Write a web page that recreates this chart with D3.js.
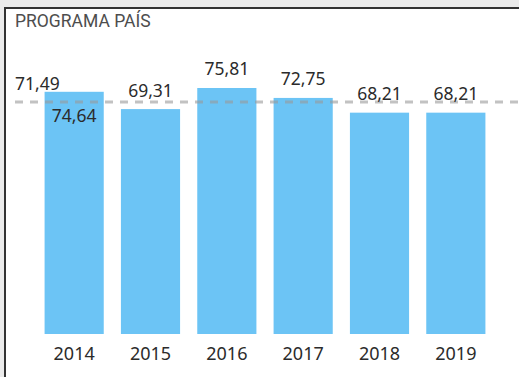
<!DOCTYPE html>
<html>
<head>
<meta charset="utf-8">
<script src="https://cdn.jsdelivr.net/npm/d3@7"></script>
<style>
  html, body { margin: 0; padding: 0; background: #ebebeb; }
  svg { display: block; }
</style>
</head>
<body>
<svg id="chart" width="519" height="377"></svg>
<script>
// Programa País — yearly values with the overall average as a reference line
const years = ["2014", "2015", "2016", "2017", "2018", "2019"];
const values = [74.64, 69.31, 75.81, 72.75, 68.21, 68.21];
const chartTitle = "PROGRAMA PAÍS";

const W = 519, H = 377;
const svg = d3.select("#chart");

// card background with its dark frame on the top and left edges
svg.append("rect").attr("x", 0).attr("y", 0).attr("width", W).attr("height", H).attr("fill", "#ebebeb");
svg.append("rect").attr("x", 4).attr("y", 7).attr("width", W).attr("height", H).attr("fill", "#ffffff");
svg.append("line").attr("x1", 4).attr("x2", W).attr("y1", 8).attr("y2", 8)
  .attr("stroke", "#333").attr("stroke-width", 2);
svg.append("line").attr("x1", 5).attr("x2", 5).attr("y1", 7).attr("y2", H)
  .attr("stroke", "#333").attr("stroke-width", 2);

svg.append("text")
  .attr("x", 15).attr("y", 26.5)
  .attr("font-family", "Roboto, sans-serif")
  .attr("font-size", 17.5)
  .attr("fill", "#4d4d4d")
  .text(chartTitle);

const locale = d3.formatLocale({ decimal: ",", thousands: ".", grouping: [3], currency: ["", ""] });
const fmt = locale.format(".2f");

const x = d3.scaleBand().domain(years).range([36, 494]).paddingInner(0.225).paddingOuter(0.1125);
const y = d3.scaleLinear().domain([0, 80]).range([334, 74.4]);

const data = years.map((yr, i) => ({ year: yr, value: values[i] }));
const avg = d3.mean(values);

const labelFont = "'Noto Sans', sans-serif";
const textColor = "#2b2b2b";

// bars
svg.append("g").selectAll("rect").data(data).join("rect")
  .attr("x", d => x(d.year))
  .attr("y", d => y(d.value))
  .attr("width", x.bandwidth())
  .attr("height", d => y(0) - y(d.value))
  .attr("fill", "#6cc4f5");

// average reference line
svg.append("line")
  .attr("x1", 15).attr("x2", W)
  .attr("y1", y(avg)).attr("y2", y(avg))
  .attr("stroke", "#999").attr("stroke-opacity", 0.6)
  .attr("stroke-width", 3).attr("stroke-dasharray", "8,7");

const avgLabel = svg.append("text")
  .attr("x", 15).attr("y", y(avg) - 12.5)
  .attr("font-family", labelFont).attr("font-size", 17.5)
  .attr("fill", textColor)
  .text(fmt(avg));
const avgBox = avgLabel.node().getBBox();

// value labels: above the bar, or inside it when they would hit the average label
const labels = svg.append("g").selectAll("text").data(data).join("text")
  .attr("x", d => x(d.year) + x.bandwidth() / 2)
  .attr("y", d => y(d.value) - 12.5)
  .attr("text-anchor", "middle")
  .attr("font-family", labelFont).attr("font-size", 17.5)
  .attr("fill", textColor)
  .text(d => fmt(d.value));

labels.each(function (d) {
  const b = this.getBBox();
  const hit = b.x < avgBox.x + avgBox.width && b.x + b.width > avgBox.x &&
              b.y < avgBox.y + avgBox.height && b.y + b.height > avgBox.y;
  if (hit) d3.select(this).attr("y", y(d.value) + 30);
});

// category axis
const xAxis = svg.append("g")
  .attr("transform", `translate(0,${y(0)})`)
  .call(d3.axisBottom(x).tickSize(0).tickPadding(13));
xAxis.select(".domain").remove();
xAxis.selectAll("text")
  .attr("font-family", labelFont).attr("font-size", 18)
  .attr("fill", textColor)
  .attr("dy", "0.71em");
</script>
</body>
</html>
